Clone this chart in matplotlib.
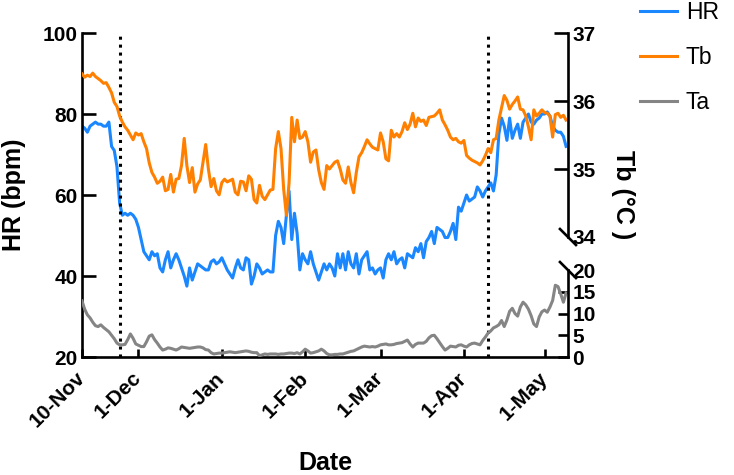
import numpy as np
import pandas as pd
import matplotlib
matplotlib.use("Agg")
import matplotlib.pyplot as plt

plt.rcParams["font.family"] = ["Liberation Sans", "DejaVu Sans"]

dates = pd.date_range("2018-11-10", periods=181, freq="D")

hr = [77, 76.5, 75.5, 77, 77.5, 78, 77.5, 77.5, 77, 77,
      78, 72, 71, 67, 58, 55, 55.5, 55, 55.5, 55,
      54, 52, 49, 46, 45, 44, 46, 45, 45.5, 42,
      41, 44, 46, 42, 44, 45.5, 44, 42, 40, 37.5,
      42, 39, 41, 43, 42.5, 42, 41.5, 41.5, 43.5, 44,
      43, 43.5, 44.5, 43, 41.5, 40.5, 39.5, 42, 44, 42,
      41.5, 44.5, 44, 38, 40, 43, 42, 40.5, 41, 41.5,
      41, 41, 50, 53.5, 52, 48, 55, 61, 49, 55.5,
      50.5, 41.5, 45.5, 44, 43, 46, 43, 41, 39, 41,
      43, 41.5, 43, 42, 40, 45.5, 42, 45.5, 41.5, 46,
      43, 42, 45.5, 40.5, 44, 45, 46, 41.5, 42, 40.5,
      41.5, 42, 39.5, 44, 45.5, 44, 46, 43, 44, 44.5,
      42, 45.5, 45, 44.5, 47, 46, 48, 44.5, 48.5, 49.5,
      51, 48, 52, 51.5, 51, 49.5, 49.5, 51, 53, 49,
      57, 56, 58, 60, 58.5, 59, 59.5, 62, 61, 59.5,
      61, 62, 63, 61, 65, 75, 79, 77, 73.5, 79,
      74, 76, 77.5, 74, 78, 79, 80, 78, 77.5, 78.5,
      79, 80, 80, 80.5, 79.5, 77, 76, 75.5, 75.5, 74.5,
      72]

tb = [36.40, 36.35, 36.38, 36.36, 36.41, 36.36, 36.33, 36.30, 36.26, 36.27,
      36.20, 36.12, 35.98, 35.92, 35.78, 35.69, 35.62, 35.57, 35.50, 35.43,
      35.53, 35.50, 35.52, 35.40, 35.30, 35.09, 34.95, 34.88, 34.79, 34.82,
      34.88, 34.68, 34.70, 34.92, 34.66, 34.85, 34.86, 35.05, 35.45, 35.05,
      34.80, 35.02, 34.66, 34.78, 34.84, 35.10, 35.36, 35.00, 34.74, 34.86,
      34.68, 34.62, 34.80, 34.85, 34.81, 34.83, 34.85, 34.66, 34.62, 34.82,
      34.81, 34.68, 34.90, 34.85, 34.55, 34.50, 34.76, 34.60, 34.55, 34.62,
      34.69, 34.70, 35.30, 35.55, 35.30, 34.70, 34.32, 34.80, 35.76, 35.40,
      35.72, 35.45, 35.47, 35.55, 35.40, 35.10, 35.25, 35.28, 34.99, 34.80,
      34.70, 35.05, 35.00, 35.05, 35.10, 35.12, 35.00, 34.84, 34.79, 35.03,
      34.80, 34.65, 34.95, 35.18, 35.24, 35.33, 35.43, 35.37, 35.32, 35.30,
      35.28, 35.53, 35.40, 35.15, 35.12, 35.57, 35.47, 35.52, 35.47, 35.55,
      35.68, 35.58, 35.66, 35.82, 35.62, 35.75, 35.70, 35.72, 35.64, 35.76,
      35.77, 35.78, 35.82, 35.87, 35.72, 35.65, 35.57, 35.47, 35.43, 35.45,
      35.40, 35.38, 35.42, 35.20, 35.16, 35.13, 35.11, 35.09, 35.06, 35.12,
      35.20, 35.30, 35.24, 35.43, 35.45, 35.72, 35.90, 36.08, 36.01, 35.88,
      35.95, 36.00, 36.06, 35.88, 35.87, 35.78, 35.62, 35.43, 35.87, 35.78,
      35.82, 35.87, 35.83, 35.82, 35.78, 35.47, 35.80, 35.82, 35.76, 35.79,
      35.72]

ta = [12.9, 11.0, 9.7, 9.0, 8.0, 7.2, 7.0, 7.4, 6.8, 6.3,
      5.8, 5.0, 4.2, 3.2, 2.8, 2.8, 2.9, 4.0, 5.3, 4.3,
      3.0, 2.7, 2.4, 2.4, 3.5, 4.8, 5.1, 4.0, 3.2, 2.3,
      1.6, 1.8, 2.1, 2.0, 1.8, 1.6, 1.9, 2.3, 2.2, 2.1,
      2.0, 2.1, 2.2, 2.3, 2.3, 2.1, 1.7, 1.6, 1.0, 0.7,
      0.8, 0.9, 0.9, 1.0, 1.1, 1.2, 1.1, 1.0, 1.1, 1.2,
      1.3, 1.4, 1.3, 1.1, 1.0, 1.0, 0.3, 0.5, 0.7, 0.6,
      0.7, 0.7, 0.7, 0.6, 0.7, 0.7, 0.8, 0.9, 0.9, 0.8,
      1.0, 0.7, 1.2, 1.8, 1.4, 0.9, 1.0, 1.2, 1.4, 1.8,
      1.4, 0.8, 0.5, 0.5, 0.6, 0.6, 0.7, 0.7, 0.9, 1.1,
      1.3, 1.4, 1.7, 2.0, 2.3, 2.5, 2.4, 2.3, 2.4, 2.3,
      2.5, 2.8, 2.9, 3.0, 2.8, 2.8, 2.9, 3.1, 3.2, 3.3,
      3.6, 3.9, 3.0, 2.3, 2.9, 3.2, 3.2, 3.2, 3.6, 4.4,
      4.9, 5.0, 4.2, 3.3, 2.4, 1.6, 2.0, 2.5, 2.4, 2.3,
      2.7, 2.8, 2.5, 2.3, 2.8, 3.1, 3.2, 3.0, 2.8, 3.8,
      4.6, 5.5, 6.0, 6.7, 7.0, 7.4, 8.4, 7.0, 8.5, 10.5,
      11.2, 10.0, 9.4, 11.5, 12.6, 12.0, 11.0, 9.5, 7.6, 7.0,
      9.2, 10.4, 10.8, 10.3, 11.5, 13.0, 16.5, 16.2, 14.5, 12.6,
      14.7]

tick_dates = ["2018-11-10", "2018-12-01", "2019-01-01", "2019-02-01",
              "2019-03-01", "2019-04-01", "2019-05-01"]
tick_labels = ["10-Nov", "1-Dec", "1-Jan", "1-Feb", "1-Mar", "1-Apr", "1-May"]
transitions = ["2018-11-24", "2019-04-10"]

blue = "#1A87FF"
orange = "#FF8000"
grey = "#858585"
lw = 2.2
sw = 1.9
tick_fs = 15

fig = plt.figure(figsize=(7.34, 4.75), dpi=100)
ax = fig.add_axes([0.1117, 0.2484, 0.6621, 0.6821])
axT = ax.twinx()
axA = ax.twinx()

l1, = ax.plot(dates, hr, color=blue, lw=lw, label="HR")
l2, = axT.plot(dates, tb, color=orange, lw=lw, label="Tb")
l3, = axA.plot(dates, ta, color=grey, lw=lw, label="Ta")

for d in transitions:
    ax.axvline(pd.Timestamp(d), color="black", lw=2.2, ls=(0, (1, 1.6)))

ax.set_xlim(pd.Timestamp("2018-11-10"), pd.Timestamp("2018-11-10") + pd.Timedelta(days=180.7))
ax.set_xticks(pd.to_datetime(tick_dates))
ax.set_xticklabels(tick_labels, rotation=45, ha="right", va="center", rotation_mode="anchor")

ax.set_ylim(20, 100)
ax.set_yticks([20, 40, 60, 80, 100])

tb_lo, tb_hi = 32.235, 37
axT.set_ylim(tb_lo, tb_hi)
axT.set_yticks([34, 35, 36, 37])
axT.spines["right"].set_bounds(34, 37)

ta_hi = 74.5
axA.set_ylim(0, ta_hi)
axA.set_yticks([0, 5, 10, 15, 20])
axA.spines["right"].set_bounds(0, 20)

for a in (ax, axT, axA):
    for s in a.spines.values():
        s.set_linewidth(sw)
    a.spines["top"].set_visible(False)
    a.tick_params(width=sw, labelsize=tick_fs, pad=3)
    for t in a.get_xticklabels() + a.get_yticklabels():
        t.set_fontweight("bold")
ax.spines["right"].set_visible(False)
for a in (axT, axA):
    a.spines["left"].set_visible(False)
    a.spines["bottom"].set_visible(False)

ax.tick_params(axis="y", direction="in", length=10)
ax.tick_params(axis="x", direction="in", length=6, pad=13)
axT.tick_params(axis="y", direction="in", length=10)
axA.tick_params(axis="y", direction="in", length=7)
axT.yaxis.get_major_ticks()[0].tick2line.set_visible(False)
axA.yaxis.get_major_ticks()[-1].tick2line.set_visible(False)

# break marks on the right axis
dx, dy = 8 / 486, 8 / 324
for a, v, lo, hi in ((axT, 34, tb_lo, tb_hi), (axA, 20, 0, ta_hi)):
    yf = (v - lo) / (hi - lo)
    a.plot([1 - dx, 1 + dx], [yf + dy, yf - dy], transform=a.transAxes,
           color="black", lw=sw, clip_on=False)

ax.set_ylabel("HR (bpm)", fontsize=18, fontweight="bold", va="center")
ax.yaxis.set_label_coords(-0.14, 0.5)
axT.set_ylabel("Tb (°C )", fontsize=18, fontweight="bold", rotation=270, va="center", ha="center")
axT.yaxis.set_label_coords(1.113, 0.5)
ax.set_xlabel("Date", fontsize=18, fontweight="bold", va="center")
ax.xaxis.set_label_coords(0.5, -0.327)

fig.legend(handles=[l1, l2, l3], loc="upper left", bbox_to_anchor=(0.872, 0.997),
           frameon=False, fontsize=16.5, handlelength=1.6, handletextpad=0.4,
           labelspacing=0.95, borderpad=0, borderaxespad=0)

fig.savefig("out.png", dpi=100)
